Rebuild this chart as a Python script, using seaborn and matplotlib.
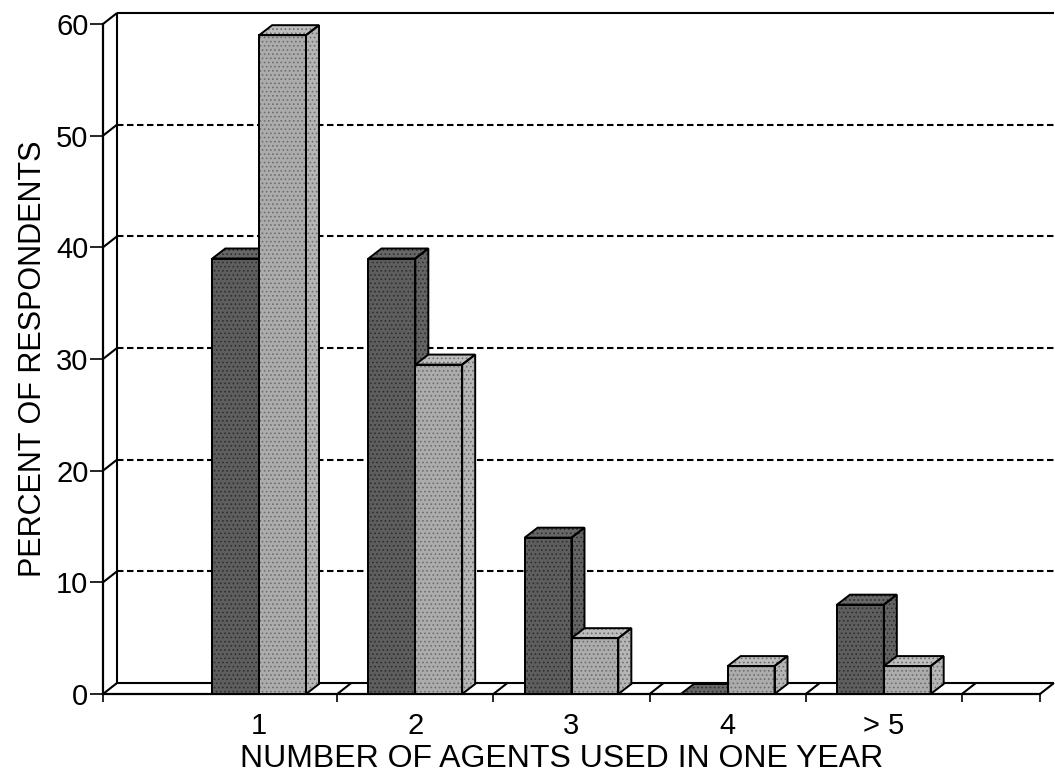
import numpy as np
import pandas as pd
import matplotlib
matplotlib.use("Agg")
import matplotlib.pyplot as plt
from matplotlib.patches import Polygon
from matplotlib.colors import to_rgb
import seaborn as sns

# Data
categories = ["1", "2", "3", "4", "> 5"]
dark_values = [39, 39, 14, 0, 8]
light_values = [59, 29.5, 5, 2.5, 2.5]
y_ticks = [0, 10, 20, 30, 40, 50, 60]

sns.set_theme(style="white")
plt.rcParams["font.family"] = ["Liberation Sans", "DejaVu Sans"]
plt.rcParams["text.color"] = "black"
plt.rcParams["axes.labelcolor"] = "black"
plt.rcParams["xtick.color"] = "black"
plt.rcParams["ytick.color"] = "black"
plt.rcParams["hatch.linewidth"] = 0.7

df = pd.DataFrame({
    "agents": categories * 2,
    "percent": dark_values + light_values,
    "group": ["dark"] * len(categories) + ["light"] * len(categories),
})

W, H = 1055, 776
fig = plt.figure(figsize=(W / 100, H / 100), dpi=100)
fig.patch.set_facecolor("white")
ax_l, ax_r, ax_b, ax_t = 103, 1040, 694, 24
ax = fig.add_axes([ax_l / W, 1 - ax_b / H, (ax_r - ax_l) / W, (ax_b - ax_t) / H])

DARK, LIGHT = "#5e5e5e", "#acacac"
STIPPLE = {DARK: "#2e2e2e", LIGHT: "#6e6e6e"}
EDGE_LW = 1.4
sns.barplot(data=df, x="agents", y="percent", hue="group", order=categories,
            hue_order=["dark", "light"], palette=[DARK, LIGHT], width=0.6,
            saturation=1, edgecolor="black", linewidth=EDGE_LW, legend=False,
            ax=ax)

ax.set_xlim(-1, 5)
ax.set_ylim(0, 60)

inv = ax.transData.inverted()
origin = ax.transData.transform((0, 0))


def depth(px, py):
    """Convert a pixel offset into a data-space offset."""
    return inv.transform(origin + np.array([px, py]))


wdx, wdy = depth(14, 11)   # depth of the box walls
bdx, bdy = depth(13, 10)   # depth of each bar


def shade(c, f):
    r, g, b = to_rgb(c)
    return tuple(min(1, v * f) for v in (r, g, b))


# Box: back wall, floor and left wall
x_lo, x_hi = ax.get_xlim()
wall_kw = dict(color="black", lw=1.5, zorder=1, clip_on=False, solid_capstyle="butt")
ax.plot([x_lo + wdx, x_lo + wdx], [wdy, 60 + wdy], **wall_kw)
ax.plot([x_lo + wdx, x_hi + wdx], [60 + wdy, 60 + wdy], **wall_kw)
ax.plot([x_lo + wdx, x_hi + wdx], [wdy, wdy], **wall_kw)
for y in y_ticks:
    ax.plot([x_lo, x_lo + wdx], [y, y + wdy], **wall_kw)
for b in [0.5, 1.5, 2.5, 3.5, 4.5, x_hi]:
    ax.plot([b, b + wdx], [0, wdy], **wall_kw)

# Dashed grid on the back wall
for y in y_ticks[1:-1]:
    ax.plot([x_lo + wdx, x_hi + wdx], [y + wdy, y + wdy], color="black",
            lw=1.5, ls=(0, (3.1, 1.7)), zorder=0.8, clip_on=False)


def stipple(verts, color, z):
    """Halftone-like dot texture laid over a face."""
    ax.add_patch(Polygon(verts, closed=True, fc="none", ec=color, lw=0,
                         hatch="....", zorder=z, clip_on=False))


# Extrude every bar with a top and a side face
bars = sorted(ax.patches, key=lambda p: p.get_x())
base_colors = {}
for p in bars:
    r, g, b, _ = p.get_facecolor()
    base_colors[id(p)] = DARK if r < 0.5 else LIGHT

for i, p in enumerate(bars):
    x0, w, h = p.get_x(), p.get_width(), p.get_height()
    x1 = x0 + w
    base = base_colors[id(p)]
    dots = STIPPLE[base]
    z = 3 + i
    p.set_zorder(z)
    p.set_clip_on(False)
    front_v = [(x0, 0), (x1, 0), (x1, h), (x0, h)]
    top_v = [(x0, h), (x1, h), (x1 + bdx, h + bdy), (x0 + bdx, h + bdy)]
    side_v = [(x1, 0), (x1, h), (x1 + bdx, h + bdy), (x1 + bdx, bdy)]
    stipple(front_v, dots, z + 0.1)
    ax.add_patch(Polygon(top_v, closed=True, fc=shade(base, 1.1), ec="none",
                         zorder=z + 0.2, clip_on=False))
    stipple(top_v, dots, z + 0.3)
    ax.add_patch(Polygon(top_v, closed=True, fc="none", ec="black", lw=EDGE_LW,
                         zorder=z + 0.4, clip_on=False, joinstyle="miter"))
    ax.add_patch(Polygon(side_v, closed=True, fc=shade(base, 1.05), ec="none",
                         zorder=z + 0.2, clip_on=False))
    stipple(side_v, dots, z + 0.3)
    ax.add_patch(Polygon(side_v, closed=True, fc="none", ec="black", lw=EDGE_LW,
                         zorder=z + 0.4, clip_on=False, joinstyle="miter"))
    ax.add_patch(Polygon(front_v, closed=True, fc="none", ec="black", lw=EDGE_LW,
                         zorder=z + 0.4, clip_on=False, joinstyle="miter"))

# Axes frame
for s in ["top", "right"]:
    ax.spines[s].set_visible(False)
for s in ["left", "bottom"]:
    ax.spines[s].set_color("black")
    ax.spines[s].set_linewidth(1.6)
    ax.spines[s].set_zorder(2)

ax.set_yticks(y_ticks)
ax.set_yticklabels([str(v) for v in y_ticks])
ax.tick_params(axis="y", which="major", direction="out", length=9.5, width=1.2,
               color="black", labelcolor="black", labelsize=21, pad=1, left=True)

ax.set_xticks([-1, 0.5, 1.5, 2.5, 3.5, 4.5, 5])
ax.set_xticklabels([])
ax.set_xticks(range(len(categories)), categories, minor=True)
ax.tick_params(axis="x", which="major", direction="out", length=6, width=1.2,
               color="black", bottom=True)
ax.tick_params(axis="x", which="minor", length=0, labelsize=21, pad=13,
               labelcolor="black", bottom=True)

ax.set_xlabel("NUMBER OF AGENTS USED IN ONE YEAR", fontsize=23, labelpad=3,
              color="black")
ax.xaxis.set_label_coords((562 - ax_l) / (ax_r - ax_l), -0.075)
ax.set_ylabel("PERCENT OF RESPONDENTS", fontsize=22, labelpad=6, color="black")
ax.grid(False)

fig.savefig("out.png", dpi=100, facecolor="white")
